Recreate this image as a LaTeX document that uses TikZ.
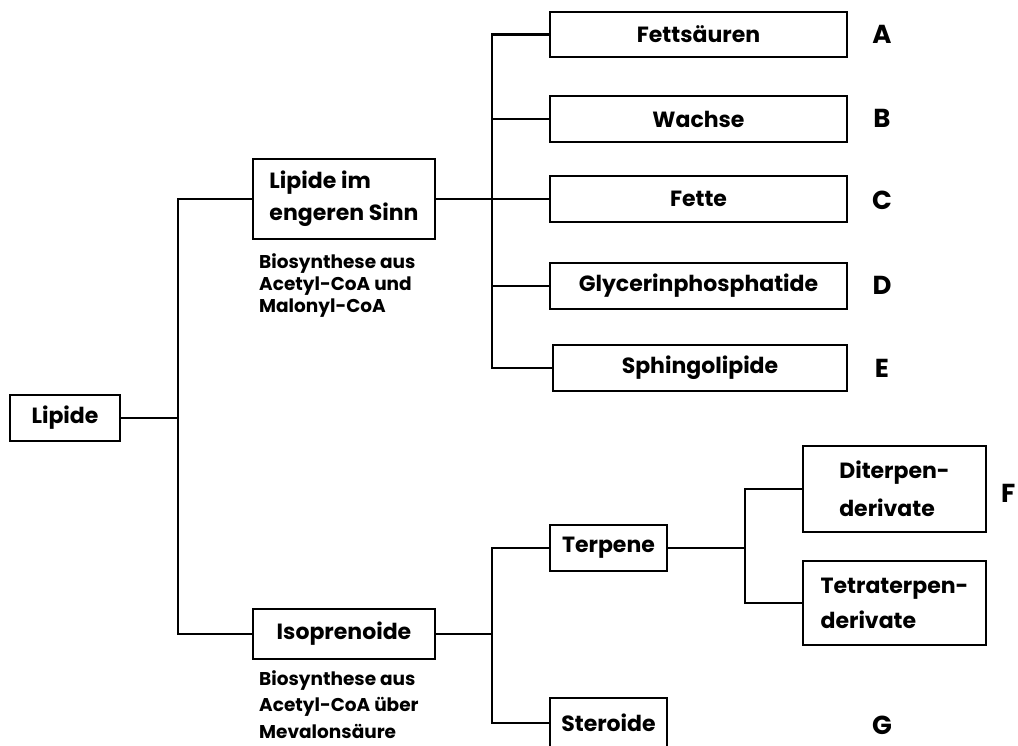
\documentclass[tikz,border=0pt]{standalone}
\usepackage{fontspec}
\setmainfont{Poppins}
\tikzset{
  box/.style={draw, line width=2.3pt, inner sep=0pt, font=\fontsize{22}{32}\selectfont\bfseries},
  conn/.style={line width=2.3pt},
  note/.style={anchor=north west, align=left, inner sep=0pt, font=\fontsize{18.5}{22}\selectfont\bfseries},
  letter/.style={font=\fontsize{26}{30}\selectfont\bfseries, inner sep=0pt},
}
\begin{document}
\begin{tikzpicture}[x=1pt,y=-1pt]
\useasboundingbox (0,0) rectangle (1018,745);
\clip (0,0) rectangle (1018,745);
% level 0
\node[box, minimum width=110pt, minimum height=46pt] (lip) at (65,418) {Lipide};
% level 1
\node[box, minimum width=182pt, minimum height=80pt, align=left] (lis) at (344,199) {Lipide im\\engeren Sinn};
\node[note] (lisn) at (259,253) {Biosynthese aus\\Acetyl-CoA und\\Malonyl-CoA};
\node[box, minimum width=182pt, minimum height=50pt] (iso) at (344,634) {Isoprenoide};
\node[note, font=\fontsize{18.5}{26.5}\selectfont\bfseries] (ison) at (259,670) {Biosynthese aus\\Acetyl-CoA über\\Mevalonsäure};
% level 2 upper
\node[box, minimum width=297pt, minimum height=45pt] (fs) at (698.5,34.5) {Fettsäuren};
\node[box, minimum width=297pt, minimum height=46pt] (wa) at (698.5,119) {Wachse};
\node[box, minimum width=297pt, minimum height=46pt] (fe) at (698.5,199) {Fette};
\node[box, minimum width=297pt, minimum height=46pt] (gl) at (698.5,286) {Glycerinphosphatide};
\node[box, minimum width=294pt, minimum height=46pt] (sp) at (700,368) {Sphingolipide};
% level 2 lower
\node[box, minimum width=117pt, minimum height=46pt] (ter) at (608.5,548) {Terpene};
\node[box, minimum width=117pt, minimum height=50pt] (ste) at (608.5,723) {Steroide};
% level 3
\node[box, minimum width=183pt, minimum height=86pt, align=left, font=\fontsize{22}{38}\selectfont\bfseries] (di) at (894.5,489) {Diterpen-\\derivate};
\node[box, minimum width=183pt, minimum height=84pt, align=left, font=\fontsize{22}{35}\selectfont\bfseries] (te) at (894.5,603) {Tetraterpen-\\derivate};
% letters
\node[letter] (A) at (882,34) {A};
\node[letter] (B) at (882,118) {B};
\node[letter] (C) at (882,200) {C};
\node[letter] (D) at (882,285) {D};
\node[letter] (E) at (882,368) {E};
\node[letter, anchor=west] (F) at (1001,493) {F};
\node[letter] (G) at (882,725) {G};
% junctions
\coordinate (j1) at (178,418);
\coordinate (j2) at (492,199);
\coordinate (j3) at (492,634);
\coordinate (j4) at (745,548);
% connectors
\draw[conn] (lip.east) -- (j1);
\draw[conn] (lis.west) -| (j1) |- (iso.west);
\draw[conn] (lis.east) -- (fe.west);
\draw[conn] (fs.west) -| (j2) |- (sp.west);
\draw[conn] (wa.west) -| (j2);
\draw[conn] (gl.west) -| (j2);
\draw[conn] (iso.east) -- (j3);
\draw[conn] (ter.west) -| (j3) |- (ste.west);
\draw[conn] (ter.east) -- (j4);
\draw[conn] (di.west) -| (j4) |- (te.west);
\end{tikzpicture}
\end{document}
